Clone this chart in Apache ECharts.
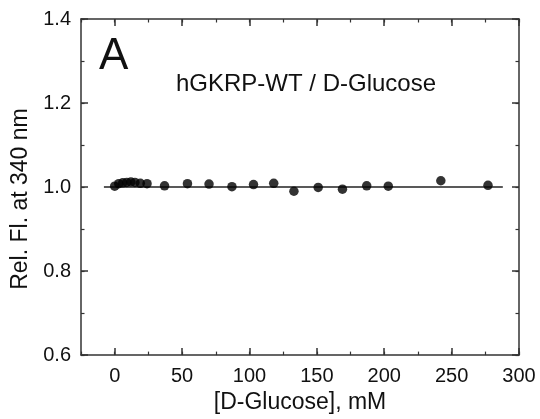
<!DOCTYPE html>
<html>
<head>
<meta charset="utf-8">
<script src="https://cdn.jsdelivr.net/npm/echarts@6/dist/echarts.min.js"></script>
<style>
html,body{margin:0;padding:0;background:#fff;}
#chart{width:540px;height:419px;}
</style>
</head>
<body>
<div id="chart"></div>
<script>
// Data
var glucose = [0, 3, 6, 9, 12, 15, 19, 24, 37, 54, 70, 87, 103, 118, 133, 151, 169, 187, 203, 242, 277];
var relFl   = [1.002, 1.008, 1.010, 1.011, 1.012, 1.011, 1.009, 1.008, 1.003, 1.008, 1.007, 1.001, 1.006, 1.009, 0.990, 0.999, 0.995, 1.003, 1.002, 1.015, 1.004];
var fitX = [-8, 288];
var fitY = [1.0, 1.0];
var xTicks = [0, 50, 100, 150, 200, 250, 300];
var yTicks = [0.6, 0.8, 1.0, 1.2, 1.4];
var panelLabel = 'A';
var annotation = 'hGKRP-WT / D-Glucose';
var xTitle = '[D-Glucose], mM';
var yTitle = 'Rel. Fl. at 340 nm';

var font = 'Liberation Sans, Arial, sans-serif';
var axisColor = '#333';
var textColor = '#111';

var points = glucose.map(function (x, i) { return [x, relFl[i]]; });
var fitLine = fitX.map(function (x, i) { return [x, fitY[i]]; });

var X_MIN = -25, X_MAX = 300, Y_MIN = 0.6, Y_MAX = 1.4;

function xAxisDef(pos, major, extra) {
  return Object.assign({
    type: 'value', position: pos, min: X_MIN, max: X_MAX, interval: 25,
    axisLine: { show: major, onZero: false, lineStyle: { color: axisColor, width: 1.5 } },
    axisTick: major
      ? { show: true, inside: true, length: 7, customValues: xTicks, lineStyle: { color: axisColor, width: 1.5 } }
      : { show: true, inside: true, length: 3.5, lineStyle: { color: axisColor, width: 1.2 } },
    axisLabel: { show: false },
    splitLine: { show: false }
  }, extra || {});
}
function yAxisDef(pos, major, extra) {
  return Object.assign({
    type: 'value', position: pos, min: Y_MIN, max: Y_MAX, interval: 0.1,
    axisLine: { show: major, onZero: false, lineStyle: { color: axisColor, width: 1.5 } },
    axisTick: major
      ? { show: true, inside: true, length: 7, customValues: yTicks, lineStyle: { color: axisColor, width: 1.5 } }
      : { show: true, inside: true, length: 3.5, lineStyle: { color: axisColor, width: 1.2 } },
    axisLabel: { show: false },
    splitLine: { show: false }
  }, extra || {});
}

var chart = echarts.init(document.getElementById('chart'), null, { renderer: 'canvas' });
chart.setOption({
  backgroundColor: '#fff',
  animation: false,
  grid: { left: 81, right: 21, top: 19, bottom: 62, containLabel: false },
  graphic: [
    { type: 'text', left: 99, top: 35, style: { text: panelLabel, font: '44px ' + font, fill: textColor } },
    { type: 'text', left: 176, top: 72, style: { text: annotation, font: '24px ' + font, fill: textColor } }
  ],
  xAxis: [
    xAxisDef('bottom', true, {
      name: xTitle, nameLocation: 'middle', nameGap: 35,
      nameTextStyle: { fontFamily: font, fontSize: 23, color: textColor },
      axisLabel: { show: true, customValues: xTicks, fontFamily: font, fontSize: 20, color: textColor, margin: 11 }
    }),
    xAxisDef('top', true),
    xAxisDef('bottom', false),
    xAxisDef('top', false)
  ],
  yAxis: [
    yAxisDef('left', true, {
      name: yTitle, nameLocation: 'middle', nameGap: 49,
      nameTextStyle: { fontFamily: font, fontSize: 23, color: textColor, padding: [0, 24, 0, 0] },
      axisLabel: { show: true, customValues: yTicks, fontFamily: font, fontSize: 20, color: textColor, margin: 10,
        formatter: function (v) { return Number(v).toFixed(1); } }
    }),
    yAxisDef('right', true),
    yAxisDef('left', false),
    yAxisDef('right', false)
  ],
  series: [
    {
      type: 'line', data: fitLine, xAxisIndex: 0, yAxisIndex: 0,
      showSymbol: false, symbol: 'none',
      lineStyle: { color: '#222', width: 1.6 }, z: 2
    },
    {
      type: 'scatter', data: points, xAxisIndex: 0, yAxisIndex: 0,
      symbol: 'circle', symbolSize: 9.5,
      itemStyle: { color: '#000' }, z: 3
    }
  ]
});
</script>
</body>
</html>
